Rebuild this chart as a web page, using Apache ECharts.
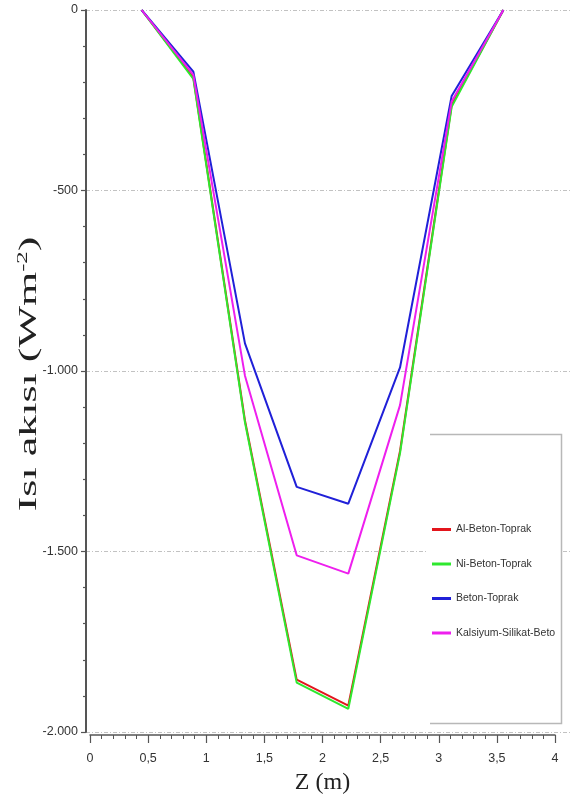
<!DOCTYPE html>
<html>
<head>
<meta charset="utf-8">
<script src="https://cdn.jsdelivr.net/npm/echarts@6/dist/echarts.min.js"></script>
<style>
  html, body { margin: 0; padding: 0; background: #ffffff; }
  #chart { width: 575px; height: 800px; }
</style>
</head>
<body>
<div id="chart"></div>
<script>
// Depth positions (m) of the computed points
var zPositions = [0.444, 0.889, 1.333, 1.778, 2.222, 2.667, 3.111, 3.556];

// Heat flux (W/m²) for each wall configuration
var alBetonToprak   = [0, -188, -1145, -1868, -1940, -1230, -265, 0];
var niBetonToprak   = [0, -192, -1150, -1876, -1949, -1236, -270, 0];
var betonToprak     = [0, -172, -930, -1330, -1377, -997, -240, 0];
var kalsiyumSilikat = [0, -181, -1020, -1521, -1572, -1102, -255, 0];

var seriesNames = ['Al-Beton-Toprak', 'Ni-Beton-Toprak', 'Beton-Toprak', 'Kalsiyum-Silikat-BetonToprak'];
var seriesColors = ['#e3151c', '#2ee82e', '#2020d8', '#ee1fee'];
var seriesValues = [alBetonToprak, niBetonToprak, betonToprak, kalsiyumSilikat];

// flux range shown on the vertical axis
var fluxMin = -2000;
var fluxMax = 0;

var sansFont = "'Liberation Sans', Arial, sans-serif";
var serifFont = "'Liberation Serif', 'DejaVu Serif', serif";

function pairs(values) {
  return zPositions.map(function (z, i) { return [z, values[i]]; });
}

function fluxLabel(v) {
  if (v === 0) return '0';
  var a = Math.abs(v);
  var s = a >= 1000 ? Math.floor(a / 1000) + '.' + String(a % 1000).padStart(3, '0') : String(a);
  return (v < 0 ? '-' : '') + s;
}

// Plot area geometry: the frame holding the flux axis and the one holding the depth axis
var frameTop = 10, fluxBottom = 68, depthBottom = 60;
var fluxHeight = 800 - frameTop - fluxBottom;
var depthHeight = 800 - frameTop - depthBottom;
// the depth frame is taller, so its hidden flux scale is extended to keep the same px per W/m²
var depthFluxMin = fluxMax + (fluxMin - fluxMax) * depthHeight / fluxHeight;

var chart = echarts.init(document.getElementById('chart'), null, { renderer: 'canvas' });

var option = {
  backgroundColor: '#ffffff',
  animation: false,
  grid: [
    { left: 86, right: 5, top: frameTop, bottom: fluxBottom },
    { left: 90, right: 20, top: frameTop, bottom: depthBottom }
  ],
  xAxis: [
    { gridIndex: 0, type: 'value', min: 0, max: 1, show: false },
    {
      gridIndex: 1, type: 'value', position: 'bottom', min: 0, max: 4, interval: 0.5,
      name: 'Z (m)', nameLocation: 'middle', nameGap: 36,
      nameTextStyle: { fontFamily: serifFont, fontSize: 24, color: '#222', verticalAlign: 'top' },
      axisLine: { show: true, onZero: false, lineStyle: { color: '#555', width: 1.5 } },
      axisTick: { show: true, inside: false, length: 8, lineStyle: { color: '#555', width: 1.2 } },
      minorTick: { show: true, splitNumber: 5, length: 4, lineStyle: { color: '#555', width: 1 } },
      splitLine: { show: false },
      axisLabel: {
        margin: 17, fontFamily: sansFont, fontSize: 12.5, color: '#333',
        formatter: function (v) { return String(v).replace('.', ','); }
      }
    }
  ],
  yAxis: [
    {
      gridIndex: 0, type: 'value', position: 'left', min: fluxMin, max: fluxMax, interval: 500,
      axisLine: { show: true, onZero: false, lineStyle: { color: '#555', width: 2 } },
      axisTick: { show: true, inside: false, length: 5, lineStyle: { color: '#555', width: 1.2 } },
      minorTick: { show: true, splitNumber: 5, length: 3, lineStyle: { color: '#555', width: 1.2 } },
      splitLine: { show: true, lineStyle: { color: '#c2c2c2', width: 1.2, type: [4, 2, 1, 2] } },
      axisLabel: { margin: 8, fontFamily: sansFont, fontSize: 12.5, color: '#333', formatter: fluxLabel }
    },
    { gridIndex: 1, type: 'value', min: depthFluxMin, max: fluxMax, show: false }
  ],
  legend: {
    orient: 'vertical', left: 427, top: 519, z: 6,
    icon: 'rect', itemWidth: 19, itemHeight: 3, itemGap: 23.5,
    textStyle: { fontFamily: sansFont, fontSize: 10.5, color: '#333', width: 106, overflow: 'truncate', ellipsis: '' },
    data: seriesNames
  },
  graphic: [
    {
      type: 'rect', z: 3, silent: true,
      shape: { x: 428, y: 434, width: 134, height: 290 },
      style: { fill: '#ffffff', stroke: null }
    },
    {
      type: 'polyline', z: 4, silent: true,
      shape: { points: [[430, 434.5], [561.5, 434.5], [561.5, 723.5], [430, 723.5]] },
      style: { fill: null, stroke: '#b8b8b8', lineWidth: 1.5 }
    },
    {
      // vertical axis title, stretched along its reading direction
      type: 'text', z: 5, silent: true,
      x: 29, y: 374, rotation: Math.PI / 2, scaleX: 1.76, scaleY: 1,
      style: {
        text: '{a|Isı akısı (Wm}{s|-2}{a|)}',
        align: 'center', verticalAlign: 'middle',
        rich: {
          a: { fontFamily: serifFont, fontSize: 25, fill: '#222', color: '#222' },
          s: { fontFamily: serifFont, fontSize: 14, fill: '#222', color: '#222', verticalAlign: 'top', padding: [0, 0, 12, 0] }
        }
      }
    }
  ],
  series: seriesNames.map(function (name, i) {
    return {
      name: name, type: 'line', xAxisIndex: 1, yAxisIndex: 1,
      data: pairs(seriesValues[i]),
      showSymbol: false, symbol: 'none',
      lineStyle: { color: seriesColors[i], width: 2 },
      itemStyle: { color: seriesColors[i] },
      z: 2 + i
    };
  })
};

chart.setOption(option);
</script>
</body>
</html>
